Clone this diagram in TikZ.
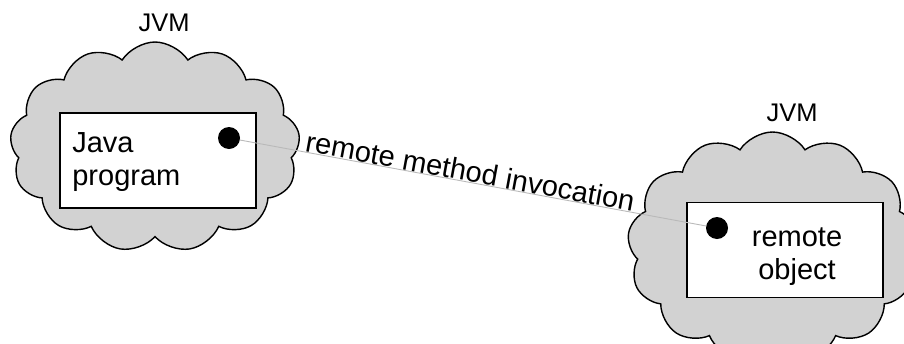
\documentclass[tikz,border=0pt]{standalone}
\usepackage{fontspec}
\setmainfont{Liberation Sans}
\usetikzlibrary{shapes.symbols,positioning}
\tikzset{
  jvm_cloud/.style={
    draw, cloud, cloud puffs=13, cloud puff arc=115, fill=gray!35,
    line width=0.8pt, minimum width=5.8cm, minimum height=4.2cm
  },
  jvm_box/.style={
    draw, rectangle, fill=white, line width=0.9pt,
    minimum width=3.92cm, minimum height=1.9cm
  },
  obj_dot/.style={circle, fill=black, minimum size=0.44cm, inner sep=0pt},
  jvm_lbl/.style={font=\fontsize{14.5}{17}\selectfont},
  box_txt/.style={font=\fontsize{16.5}{18.8}\selectfont, inner sep=0pt},
  rmi_line/.style={draw=gray!55, line width=0.5pt},
}
\begin{document}
\begin{tikzpicture}

\useasboundingbox (0,0) rectangle (18.08,6.86);
\clip (0,0) rectangle (18.08,6.86);

% the two virtual machines
\node[jvm_cloud] (lvm) at (3.10,3.92) {};
\node[jvm_cloud, minimum width=5.8cm, minimum height=4.6cm] (rvm) at (15.45,1.92) {};
\node[jvm_lbl] (lvmlbl) at (3.28,6.40) {JVM};
\node[jvm_lbl] (rvmlbl) at (15.84,4.60) {JVM};

% program and object boxes
\node[jvm_box] (prog) at (3.16,3.65) {};
\node[jvm_box] (robj) at (15.70,1.86) {};
\node[box_txt, align=left, anchor=west] (progtxt) at (1.44,3.62) {Java\\program};
\node[box_txt, align=center] (robjtxt) at (15.94,1.72) {remote\\object};

% call endpoints
\node[obj_dot] (ldot) at (4.58,4.10) {};
\node[obj_dot] (rdot) at (14.34,2.30) {};

% remote call
\draw[rmi_line] (ldot) -- node[pos=0.49, sloped, above, inner sep=2pt, box_txt]
  {remote method invocation} (rdot);

\end{tikzpicture}
\end{document}
